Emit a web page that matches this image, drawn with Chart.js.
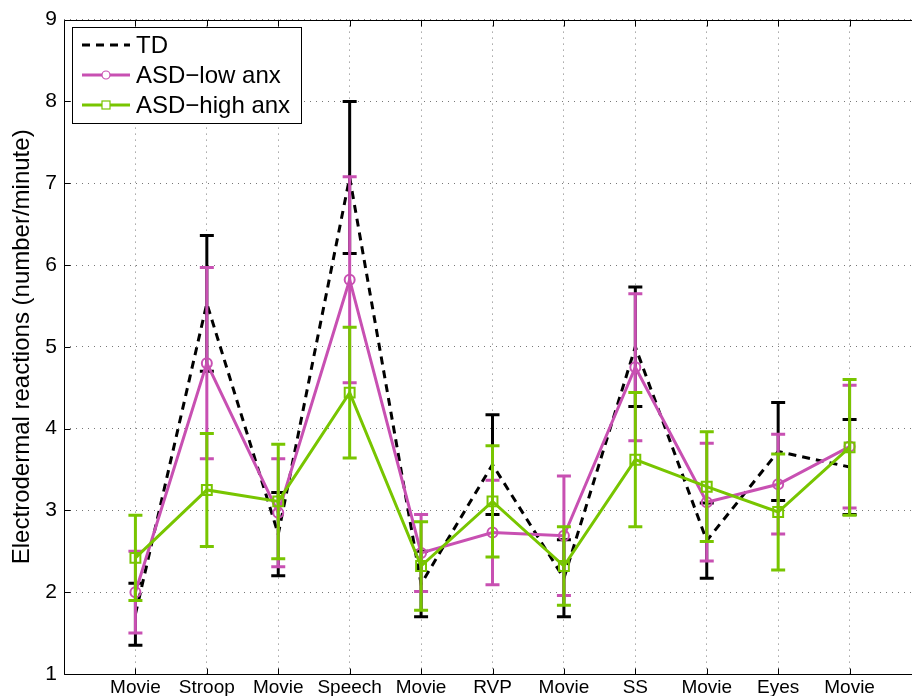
<!DOCTYPE html>
<html>
<head>
<meta charset="utf-8">
<script src="https://cdn.jsdelivr.net/npm/chart.js@4.4.1/dist/chart.umd.min.js"></script>
<style>
  html, body { margin: 0; padding: 0; background: #fff; overflow: hidden; }
  #wrap { position: relative; width: 940px; height: 696px; }
</style>
</head>
<body>
<div id="wrap"><canvas id="edaChart"></canvas></div>
<script>
// Task conditions along the x axis
const categories = ['Movie', 'Stroop', 'Movie', 'Speech', 'Movie', 'RVP', 'Movie', 'SS', 'Movie', 'Eyes', 'Movie'];

// Group means and error bar half-lengths (reactions per minute)
const tdMean   = [1.73, 5.53, 2.71, 7.07, 2.10, 3.56, 2.17, 5.00, 2.63, 3.72, 3.53];
const tdErr    = [0.38, 0.83, 0.51, 0.93, 0.40, 0.61, 0.47, 0.73, 0.46, 0.60, 0.58];
const lowMean  = [2.00, 4.80, 2.97, 5.82, 2.48, 2.73, 2.69, 4.75, 3.10, 3.32, 3.78];
const lowErr   = [0.50, 1.17, 0.66, 1.26, 0.47, 0.64, 0.73, 0.90, 0.72, 0.61, 0.75];
const highMean = [2.42, 3.25, 3.11, 4.44, 2.32, 3.11, 2.32, 3.62, 3.29, 2.98, 3.77];
const highErr  = [0.52, 0.69, 0.70, 0.80, 0.54, 0.68, 0.48, 0.82, 0.67, 0.71, 0.83];

const yTicks = [1, 2, 3, 4, 5, 6, 7, 8, 9];

const TD_COLOR = '#000000';
const LOW_COLOR = 'rgb(200, 80, 178)';
const HIGH_COLOR = 'rgb(120, 197, 0)';
const FONT = "'Liberation Sans', Arial, Helvetica, sans-serif";

const errorSets = [tdErr, lowErr, highErr];

function toPoints(values) {
    return values.map((v, i) => ({ x: i + 1, y: v }));
}

// Draws error bars per dataset, the axes box, inward ticks and the legend
const matlabFrame = {
    id: 'matlabFrame',
    afterDatasetDraw(chart, args) {
        const ctx = chart.ctx;
        const ds = chart.data.datasets[args.index];
        const errs = errorSets[args.index];
        const xs = chart.scales.x, ys = chart.scales.y;
        ctx.save();
        ctx.strokeStyle = ds.borderColor;
        ctx.lineWidth = 3;
        ctx.setLineDash([]);
        ds.data.forEach((p, i) => {
            const x = xs.getPixelForValue(p.x);
            const yTop = ys.getPixelForValue(p.y + errs[i]);
            const yBot = ys.getPixelForValue(p.y - errs[i]);
            ctx.beginPath();
            ctx.moveTo(x, yTop); ctx.lineTo(x, yBot);
            ctx.moveTo(x - 7, yTop); ctx.lineTo(x + 7, yTop);
            ctx.moveTo(x - 7, yBot); ctx.lineTo(x + 7, yBot);
            ctx.stroke();
        });
        ctx.restore();
    },
    afterDraw(chart) {
        const ctx = chart.ctx;
        const a = chart.chartArea;
        const xs = chart.scales.x, ys = chart.scales.y;
        ctx.save();
        ctx.strokeStyle = '#000';
        ctx.lineWidth = 1;
        ctx.setLineDash([]);
        const L = Math.round(a.left) + 0.5, T = Math.round(a.top) + 0.5;
        const B = Math.round(a.bottom) + 0.5, R = Math.round(a.right) + 0.5;
        ctx.beginPath();
        ctx.moveTo(L, T); ctx.lineTo(R, T); ctx.lineTo(R, B); ctx.lineTo(L, B); ctx.closePath();
        ctx.stroke();

        // inward ticks
        ctx.beginPath();
        categories.forEach((c, i) => {
            const x = Math.round(xs.getPixelForValue(i + 1)) + 0.5;
            ctx.moveTo(x, B); ctx.lineTo(x, B - 6);
            ctx.moveTo(x, T); ctx.lineTo(x, T + 6);
        });
        yTicks.forEach(v => {
            const y = Math.round(ys.getPixelForValue(v)) + 0.5;
            ctx.moveTo(L, y); ctx.lineTo(L + 6, y);
        });
        ctx.stroke();

        // legend
        const lx = 72.5, ly = 27.5, lw = 229, lh = 96;
        ctx.fillStyle = '#fff';
        ctx.fillRect(lx, ly, lw, lh);
        ctx.strokeRect(lx, ly, lw, lh);
        const rows = chart.data.datasets;
        rows.forEach((ds, i) => {
            const y = 45 + i * 30;
            ctx.save();
            ctx.strokeStyle = ds.borderColor;
            ctx.lineWidth = ds.borderWidth;
            ctx.setLineDash(ds.borderDash || []);
            ctx.beginPath();
            ctx.moveTo(82, y); ctx.lineTo(130, y);
            ctx.stroke();
            ctx.setLineDash([]);
            ctx.lineWidth = 1.2;
            if (ds.pointStyle === 'circle' && ds.pointRadius > 0) {
                ctx.fillStyle = '#fff';
                ctx.beginPath();
                ctx.arc(106, y, 4, 0, Math.PI * 2);
                ctx.fill(); ctx.stroke();
            } else if (ds.pointStyle === 'rect' && ds.pointRadius > 0) {
                ctx.fillStyle = '#fff';
                ctx.fillRect(102, y - 4, 8, 8);
                ctx.strokeRect(102, y - 4, 8, 8);
            }
            ctx.restore();
            ctx.fillStyle = '#000';
            ctx.font = '24px ' + FONT;
            ctx.textBaseline = 'middle';
            ctx.textAlign = 'left';
            ctx.fillText(ds.label, 136, y + 1);
        });
        ctx.restore();
    }
};

const ctx = document.getElementById('edaChart').getContext('2d');
Chart.defaults.font.family = FONT;
Chart.defaults.color = '#000';

new Chart(ctx, {
    type: 'line',
    data: {
        datasets: [{
            label: 'TD',
            data: toPoints(tdMean),
            borderColor: TD_COLOR,
            borderWidth: 3,
            borderDash: [8, 6],
            pointRadius: 0,
            pointStyle: 'line',
            order: 2
        }, {
            label: 'ASD\u2212low anx',
            data: toPoints(lowMean),
            borderColor: LOW_COLOR,
            borderWidth: 3,
            pointStyle: 'circle',
            pointRadius: 5,
            pointBorderWidth: 2,
            pointBackgroundColor: 'rgba(0,0,0,0)',
            order: 1
        }, {
            label: 'ASD\u2212high anx',
            data: toPoints(highMean),
            borderColor: HIGH_COLOR,
            borderWidth: 3,
            pointStyle: 'rect',
            pointRadius: 7,
            pointBorderWidth: 2,
            pointBackgroundColor: 'rgba(0,0,0,0)',
            order: 0
        }]
    },
    options: {
        responsive: true,
        maintainAspectRatio: false,
        animation: false,
        layout: { padding: { top: 19, right: 19, left: 0, bottom: 0 } },
        plugins: {
            legend: { display: false },
            tooltip: { enabled: false }
        },
        scales: {
            x: {
                type: 'linear',
                min: 0,
                max: 12,
                afterBuildTicks(scale) {
                    scale.ticks = categories.map((c, i) => ({ value: i + 1 }));
                },
                ticks: {
                    callback: (v) => categories[v - 1],
                    font: { size: 19 },
                    color: '#000',
                    padding: 2,
                    maxRotation: 0,
                    autoSkip: false
                },
                grid: { color: '#777', lineWidth: 1, drawTicks: false },
                border: { display: false, dash: [1, 5] },
                afterFit(scale) { scale.height = 22; }
            },
            y: {
                min: 1,
                max: 9,
                afterBuildTicks(scale) {
                    scale.ticks = yTicks.map(v => ({ value: v }));
                },
                ticks: { font: { size: 21 }, color: '#000', padding: 7 },
                grid: { color: '#777', lineWidth: 1, drawTicks: false },
                border: { display: false, dash: [1, 5] },
                title: {
                    display: true,
                    text: 'Electrodermal reactions (number/minute)',
                    font: { size: 24 },
                    color: '#000',
                    padding: { top: 8, bottom: 0 }
                },
                afterFit(scale) { scale.width = 64; }
            }
        }
    },
    plugins: [matlabFrame]
});
</script>
</body>
</html>
